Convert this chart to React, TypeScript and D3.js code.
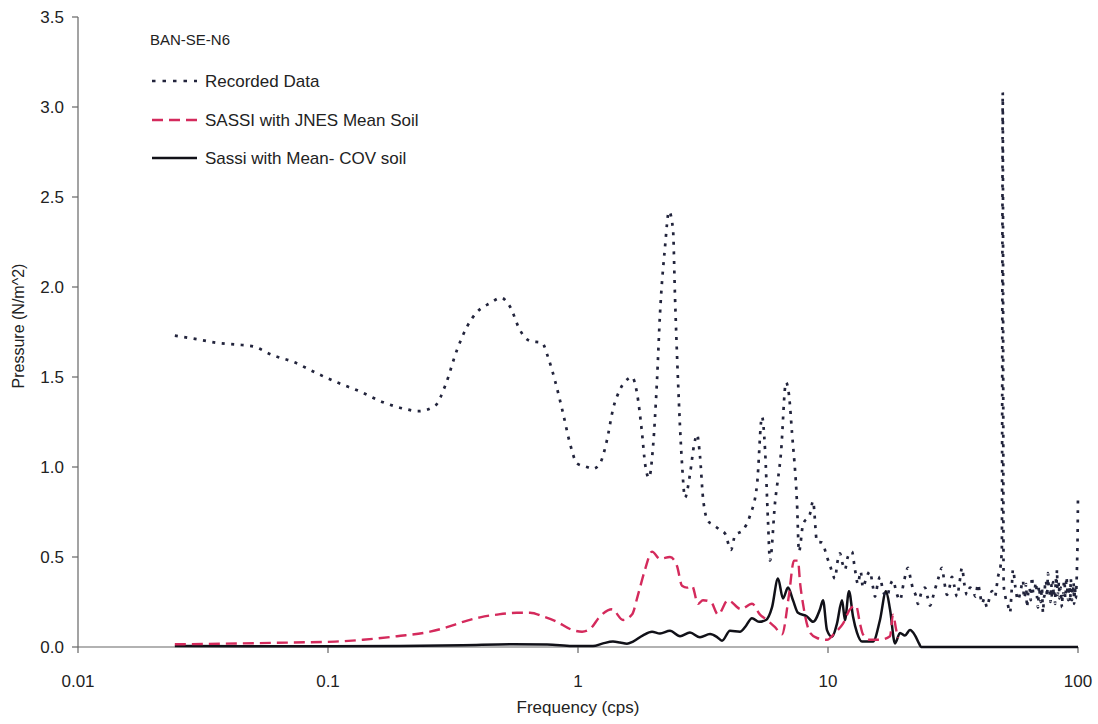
import React from "react";
import * as d3 from "d3";

const yTicks = [0, 0.5, 1.0, 1.5, 2.0, 2.5, 3.0, 3.5];
const xTicks = [0.01, 0.1, 1, 10, 100];
const xTickLabels = ["0.01", "0.1", "1", "10", "100"];

const seriesNames = ["Recorded Data", "SASSI with JNES Mean Soil", "Sassi with Mean- COV soil"];
const chartTitle = "BAN-SE-N6";

// Recorded Data (frequency cps, pressure N/m^2), up to ~59 cps
const recordedFreq = [
  0.0244, 0.0299, 0.036, 0.0432, 0.0501, 0.0603, 0.0724, 0.0904, 0.1086, 0.134, 0.166, 0.207, 0.229, 0.268, 0.294,
  0.328, 0.36, 0.394, 0.445, 0.492, 0.535, 0.586, 0.643, 0.718, 0.759, 0.809, 0.871, 0.929, 0.991, 1.086, 1.148,
  1.225, 1.306, 1.38, 1.472, 1.585, 1.644, 1.722, 1.803, 1.854, 1.923, 1.995, 2.07, 2.128, 2.228, 2.312, 2.399,
  2.443, 2.512, 2.606, 2.679, 2.805, 2.911, 2.992, 3.076, 3.162, 3.311, 3.467, 3.698, 3.873, 4.093, 4.246, 4.571,
  4.875, 5.2, 5.445, 5.598, 5.754, 5.861, 6.138, 6.486, 6.792, 6.982, 7.178, 7.516, 7.656, 7.943, 8.472, 8.71,
  9.036, 9.462, 9.908, 10.2, 10.67, 10.9, 11.17, 11.4, 11.69, 12.0, 12.47, 12.82, 13.18, 13.5, 13.8, 14.2, 14.72,
  15.1, 15.42, 15.8, 16.14, 16.6, 17.22, 17.7, 18.2, 18.8, 19.41, 20.1, 20.89, 21.4, 21.88, 22.4, 22.91, 23.6,
  24.43, 25.0, 25.59, 26.2, 26.79, 27.6, 28.58, 29.2, 29.92, 30.6, 31.33, 32.0, 32.81, 33.6, 34.36, 35.1, 35.97,
  37.0, 38.02, 38.9, 39.81, 40.5, 41.3, 42.2, 43.25, 44.2, 45.29, 46.5, 47.86, 49.0, 49.6, 50.0, 50.4, 51.2, 52.3,
  53.46, 54.2, 54.95, 56.2, 57.54, 58.9,
];
const recordedValue = [
  1.73, 1.71, 1.69, 1.68, 1.67, 1.62, 1.585, 1.52, 1.47, 1.42, 1.36, 1.32, 1.31, 1.34, 1.45,
  1.65, 1.78, 1.86, 1.91, 1.94, 1.89, 1.76, 1.7, 1.69, 1.61, 1.48, 1.3, 1.13, 1.02, 1.0, 0.99,
  1.02, 1.15, 1.32, 1.43, 1.49, 1.5, 1.41, 1.19, 1.02, 0.94, 1.11, 1.48, 1.85, 2.22, 2.42, 2.32,
  1.95, 1.48, 1.02, 0.83, 0.96, 1.12, 1.18, 1.06, 0.83, 0.7, 0.68, 0.65, 0.63, 0.54, 0.62, 0.65,
  0.73, 0.9, 1.28, 1.1, 0.7, 0.48, 0.8, 1.08, 1.47, 1.4, 1.19, 0.8, 0.53, 0.68, 0.74, 0.81,
  0.585, 0.58, 0.5, 0.45, 0.38, 0.47, 0.52, 0.47, 0.43, 0.5, 0.53, 0.43, 0.35, 0.42, 0.33, 0.38, 0.42,
  0.34, 0.28, 0.35, 0.39, 0.31, 0.28, 0.34, 0.37, 0.3, 0.26, 0.36, 0.44, 0.38, 0.32, 0.29, 0.24, 0.3,
  0.33, 0.28, 0.23, 0.27, 0.32, 0.38, 0.44, 0.36, 0.29, 0.33, 0.39, 0.34, 0.28, 0.36, 0.44, 0.35, 0.29,
  0.33, 0.31, 0.28, 0.35, 0.3, 0.24, 0.27, 0.22, 0.27, 0.31, 0.28, 0.39, 0.45, 0.55, 3.08, 0.35, 0.28, 0.24,
  0.19, 0.3, 0.43, 0.33, 0.26, 0.31,
];

// Recorded Data, dense high-frequency part (60 - 100 cps)
const recordedHiFreq = [
  60.26, 60.8, 61.4, 62.0, 62.52, 63.2, 64.0, 64.7, 65.46, 66.2, 67.0, 67.8, 68.55, 69.2, 69.8, 70.4, 71.0, 71.7,
  72.44, 73.0, 73.5, 74.0, 74.6, 75.2, 75.86, 76.4, 77.0, 77.6, 78.2, 78.7, 79.1, 79.5, 80.0, 80.6, 81.0, 81.5,
  82.0, 82.4, 82.9, 83.4, 83.9, 84.3, 84.8, 85.3, 85.8, 86.3, 86.8, 87.3, 87.9, 88.4, 88.9, 89.4, 89.9, 90.4,
  91.0, 91.5, 92.0, 92.5, 93.1, 93.6, 94.1, 94.6, 95.1, 95.6, 96.0, 96.5, 96.9, 97.3, 97.7, 98.2, 98.6, 99.1,
  99.6, 100,
];
const recordedHiValue = [
  0.37, 0.27, 0.29, 0.35, 0.22, 0.3, 0.33, 0.26, 0.39, 0.3, 0.31, 0.36, 0.28, 0.22, 0.34, 0.29, 0.25, 0.33,
  0.19, 0.27, 0.29, 0.37, 0.36, 0.28, 0.41, 0.33, 0.31, 0.25, 0.35, 0.27, 0.32, 0.36, 0.28, 0.3, 0.24, 0.38,
  0.34, 0.43, 0.29, 0.32, 0.36, 0.27, 0.31, 0.33, 0.26, 0.22, 0.3, 0.29, 0.37, 0.36, 0.27, 0.31, 0.39, 0.35,
  0.28, 0.26, 0.34, 0.33, 0.25, 0.38, 0.3, 0.26, 0.32, 0.3, 0.36, 0.24, 0.29, 0.33, 0.27, 0.28, 0.34, 0.45,
  0.6, 0.85,
];

// SASSI with JNES Mean Soil
const jnesFreq = [
  0.0244, 0.0724, 0.1067, 0.138, 0.189, 0.256, 0.299, 0.347, 0.406, 0.474, 0.57, 0.643, 0.724, 0.824, 0.929,
  1.038, 1.117, 1.225, 1.368, 1.514, 1.644, 1.738, 1.854, 1.977, 2.128, 2.333, 2.489, 2.606, 2.729, 2.858,
  3.02, 3.162, 3.404, 3.631, 3.981, 4.487, 4.966, 5.346, 5.702, 6.138, 6.546, 6.982, 7.311, 7.586, 7.727,
  7.943, 8.472, 9.036, 9.908, 10.67, 11.48, 12.25, 12.94, 13.43, 13.8, 14.72, 16.14, 17.7, 18.2, 18.71, 19.05,
];
const jnesValue = [
  0.015, 0.025, 0.03, 0.04, 0.06, 0.085, 0.11, 0.14, 0.165, 0.18, 0.19, 0.19, 0.17, 0.14, 0.1,
  0.085, 0.1, 0.17, 0.21, 0.15, 0.18, 0.29, 0.43, 0.53, 0.49, 0.5, 0.45, 0.34, 0.33, 0.34,
  0.24, 0.26, 0.25, 0.18, 0.26, 0.21, 0.24, 0.18, 0.15, 0.11, 0.07, 0.29, 0.48, 0.48, 0.36,
  0.24, 0.08, 0.05, 0.04, 0.08, 0.13, 0.21, 0.23, 0.13, 0.07, 0.04, 0.04, 0.06, 0.18, 0.1, 0.05,
];

// Sassi with Mean- COV soil
const covFreq = [
  0.0244, 0.1019, 0.194, 0.347, 0.55, 0.752, 0.946, 1.148, 1.259, 1.38, 1.472, 1.57, 1.66, 1.82, 1.977, 2.128,
  2.333, 2.559, 2.805, 3.076, 3.373, 3.6, 3.767, 4.055, 4.446, 4.656, 4.966, 5.297, 5.649, 5.97, 6.31, 6.607,
  6.918, 7.244, 7.586, 8.241, 8.71, 9.29, 9.55, 9.908, 10.38, 10.86, 11.38, 11.69, 12.13, 12.59, 13.06, 13.68,
  15.14, 16.14, 17.06, 17.7, 18.54, 19.41, 20.32, 21.28, 22.28, 23.12, 23.55, 100,
];
const covValue = [
  0.005, 0.004, 0.006, 0.01, 0.015, 0.014, 0.006, 0.005, 0.02, 0.03, 0.025, 0.018, 0.03, 0.065, 0.085, 0.075,
  0.09, 0.06, 0.08, 0.054, 0.072, 0.055, 0.035, 0.09, 0.085, 0.11, 0.16, 0.14, 0.15, 0.22, 0.38, 0.27,
  0.33, 0.26, 0.19, 0.17, 0.14, 0.21, 0.26, 0.094, 0.057, 0.13, 0.26, 0.15, 0.31, 0.17, 0.08, 0.03,
  0.03, 0.15, 0.31, 0.21, 0.02, 0.078, 0.064, 0.094, 0.065, 0.02, 0.0, 0.0,
];

const W = 1098;
const H = 724;

export default function App() {
  const x = d3.scaleLog().domain([0.01, 100]).range([78, 1078]);
  const y = d3.scaleLinear().domain([0, 3.5]).range([647, 17]);

  const line = d3
    .line<[number, number]>()
    .x((d) => x(d[0]))
    .y((d) => y(d[1]))
    .curve(d3.curveMonotoneX);

  const zip = (f: number[], v: number[]) => f.map((fi, i) => [fi, v[i]] as [number, number]);

  const recPath =
    line(zip(recordedFreq.concat(recordedHiFreq), recordedValue.concat(recordedHiValue))) || "";
  const jnesPath = line(zip(jnesFreq, jnesValue)) || "";
  const covPath = line(zip(covFreq, covValue)) || "";

  const font = "Liberation Sans, Arial, Helvetica, sans-serif";
  const axisColor = "#666";
  const recColor = "#22243c";
  const redColor = "#d42a5c";
  const blackColor = "#111118";

  const legendRows = [
    { y: 81, dash: "3.5 7", color: recColor },
    { y: 120, dash: "11 6", color: redColor },
    { y: 158, dash: "none", color: blackColor },
  ];

  return (
    <svg
      width={W}
      height={H}
      style={{ position: "absolute", left: 0, top: 0, background: "#fff" }}
      fontFamily={font}
    >
      <rect x={0} y={0} width={W} height={H} fill="#fff" />
      {/* axes */}
      <line x1={x(0.01)} x2={x(0.01)} y1={y(3.5)} y2={y(0)} stroke={axisColor} strokeWidth={1.2} />
      <line x1={x(0.01)} x2={x(100)} y1={y(0)} y2={y(0)} stroke={axisColor} strokeWidth={1.2} />
      {yTicks.map((t) => (
        <g key={"y" + t}>
          <line x1={x(0.01) - 6} x2={x(0.01)} y1={y(t)} y2={y(t)} stroke={axisColor} strokeWidth={1.2} />
          <text x={64} y={y(t) + 6} textAnchor="end" fontSize={17} fill="#222">
            {t.toFixed(1)}
          </text>
        </g>
      ))}
      {xTicks.map((t, i) => (
        <g key={"x" + t}>
          <line x1={x(t)} x2={x(t)} y1={y(0)} y2={y(0) + 6} stroke={axisColor} strokeWidth={1.2} />
          <text x={x(t)} y={687} textAnchor="middle" fontSize={17} fill="#222">
            {xTickLabels[i]}
          </text>
        </g>
      ))}
      <text x={578} y={713} textAnchor="middle" fontSize={17} fill="#222">
        Frequency (cps)
      </text>
      <text
        transform={`translate(24, 326) rotate(-90)`}
        textAnchor="middle"
        fontSize={16}
        fill="#222"
      >
        Pressure (N/m^2)
      </text>

      {/* series */}
      <path d={covPath} fill="none" stroke={blackColor} strokeWidth={2.5} strokeLinejoin="round" />
      <path d={jnesPath} fill="none" stroke={redColor} strokeWidth={2.4} strokeDasharray="11 6" />
      <path d={recPath} fill="none" stroke={recColor} strokeWidth={2.7} strokeDasharray="3 6.5" />

      {/* legend */}
      <text x={150} y={45} fontSize={15} fill="#222">
        {chartTitle}
      </text>
      {legendRows.map((r, i) => (
        <g key={"lg" + i}>
          <line
            x1={152}
            x2={197}
            y1={r.y}
            y2={r.y}
            stroke={r.color}
            strokeWidth={2.4}
            strokeDasharray={r.dash}
          />
          <text x={205} y={r.y + 6} fontSize={17} fill="#222">
            {seriesNames[i]}
          </text>
        </g>
      ))}
    </svg>
  );
}
